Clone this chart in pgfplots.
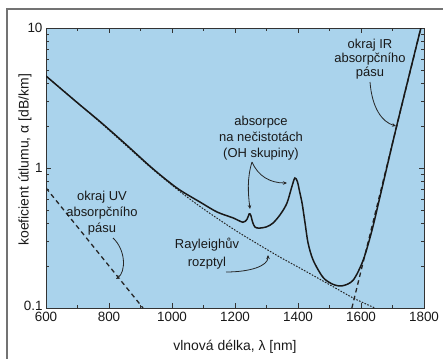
\documentclass[border=0pt]{standalone}
\usepackage{pgfplots}
\pgfplotsset{compat=1.18}
\usepackage{fontspec}
\setmainfont{Liberation Sans}
\usetikzlibrary{arrows.meta}
\definecolor{bgblue}{RGB}{170,211,236}
\begin{document}
\begin{tikzpicture}[x=1bp,y=1bp]
\path[use as bounding box] (0,0) rectangle (443,358);
\draw[black!55, line width=1.3bp] (7,-20) -- (7,349) -- (470,349);
\begin{axis}[
  at={(46bp,50bp)}, anchor=south west,
  scale only axis, width=378bp, height=280bp,
  xmin=600, xmax=1800, ymin=0.1, ymax=10, ymode=log,
  axis background/.style={fill=bgblue},
  axis line style={black!80, line width=0.8bp},
  every tick/.style={black!80, line width=0.7bp},
  xtick={600,800,1000,1200,1400,1600,1800},
  xticklabels={600,800,1000,1200,1400,1600,1800},
  minor xtick={700,900,1100,1300,1500,1700},
  ytick={0.1,1,10}, yticklabels={\raisebox{4bp}{0.1},1,10},
  tick align=inside,
  major tick length=5bp, minor tick length=3bp,
  /pgf/number format/assume math mode=true,
  ticklabel style={font=\fontsize{13.5}{15}\selectfont, black!90},
  xticklabel style={yshift=-1bp},
  xlabel={vlnová délka, λ [nm]},
  ylabel={koeficient útlumu, α [dB/km]},
  label style={font=\fontsize{14}{16}\selectfont, black!90},
  xlabel style={at={(axis description cs:0.5,-0.139)}, anchor=center},
  ylabel style={at={(axis description cs:-0.056,0.529)}, anchor=center},
  clip=true,
]
% UV absorption edge
\addplot[black!85, line width=1.3bp, dash pattern=on 4.5bp off 3.5bp] coordinates {(600,0.72) (908,0.1)};
% IR absorption edge
\addplot[black!85, line width=1.3bp, dash pattern=on 4.5bp off 3.5bp] coordinates {(1571,0.1) (1790,10)};
% Rayleigh scattering
\addplot[black!85, line width=1bp, dash pattern=on 1.6bp off 1.4bp, smooth] coordinates {
(600,4.54) (771,2.13) (930,1.02) (1025,0.68) (1100,0.51) (1200,0.36) (1289,0.272)
(1350,0.226) (1406,0.193) (1502,0.146) (1575,0.118) (1644,0.1)};
% total attenuation
\addplot[black!90, line width=1.5bp, smooth] coordinates {
(600,4.54) (700,2.92) (771,2.15) (850,1.50) (930,1.03) (980,0.83) (1025,0.696)
(1089,0.571) (1143,0.485) (1194,0.44) (1225,0.41) (1238,0.43) (1245,0.47)
(1250,0.46) (1256,0.41) (1263,0.38) (1275,0.372) (1300,0.38) (1321,0.405)
(1345,0.47) (1365,0.562) (1380,0.73) (1390,0.848) (1398,0.80) (1405,0.68)
(1413,0.56) (1422,0.41) (1432,0.291) (1448,0.22) (1479,0.166) (1510,0.148)
(1540,0.144) (1575,0.158) (1607,0.22) (1635,0.36) (1660,0.62) (1714,2.03) (1790,10)};
\end{axis}
% annotations
\begin{scope}[every node/.style={align=center, text=black!90}]
\node[font=\fontsize{13}{14}\selectfont] at (370,299) {okraj IR\\absorpčního\\pásu};
\node[font=\fontsize{13}{16}\selectfont] at (261,220) {absorpce\\na nečistotách\\(OH skupiny)};
\node[font=\fontsize{13}{16}\selectfont] at (102,145) {okraj UV\\absorpčního\\pásu};
\node[font=\fontsize{13}{18}\selectfont] at (207,104) {Rayleighův\\rozptyl};
\end{scope}
\begin{scope}[black!85, line width=0.8bp, -{Stealth[length=4bp,width=3.5bp]}]
\draw (370,276) .. controls (372,250) and (382,236) .. (396,232);
\draw (252,196) .. controls (247,180) and (248,165) .. (250,149);
\draw (252,196) .. controls (258,182) and (270,175) .. (287,175);
\draw (113,120) .. controls (126,108) and (126,86) .. (116,79);
\draw (226,86) .. controls (250,86) and (268,92) .. (268,103);
\end{scope}
\end{tikzpicture}
\end{document}
